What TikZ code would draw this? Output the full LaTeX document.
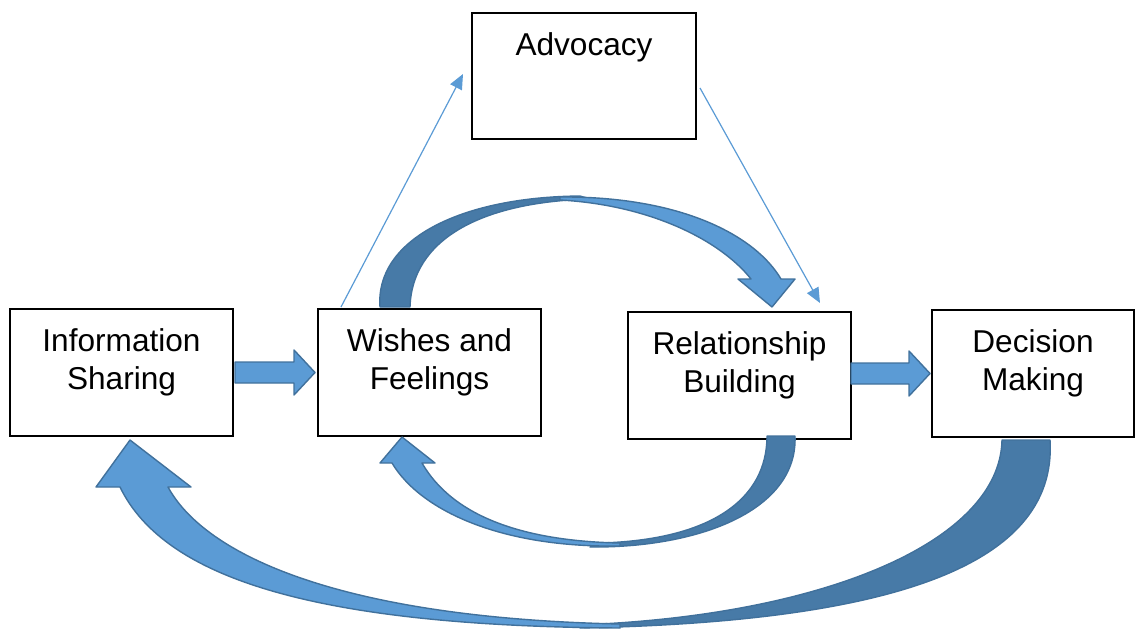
\documentclass[tikz,border=0pt]{standalone}
\usepackage{fontspec}
\setmainfont{Liberation Sans}
\usetikzlibrary{arrows.meta}
\definecolor{lb}{RGB}{91,155,213}
\definecolor{db}{RGB}{71,122,167}
\definecolor{ob}{RGB}{65,113,156}
\begin{document}
\begin{tikzpicture}[x=0.5pt,y=-0.5pt,
 box/.style={draw=black, line width=0.6pt, fill=white, inner sep=0pt, minimum width=111.5pt, minimum height=63.5pt},
 txt/.style={inner sep=0pt, align=center, yshift=5pt, font=\fontsize{15.8pt}{18.8pt}\selectfont},
 lightband/.style={draw=ob, line width=0.7pt, line join=round, fill=lb},
 darkband/.style={draw=ob, line width=0.7pt, line join=round, fill=db},
 thinarrow/.style={draw=lb, line width=0.6pt, -{Triangle[length=7.5pt,width=6.5pt]}}
]
\useasboundingbox (0,0) rectangle (1135,628);

% boxes
\node[box, label={[txt]center:Information\\Sharing}] (info) at (121.5,372.5) {};
\node[box, label={[txt]center:Wishes and\\Feelings}] (wish) at (429.5,372.5) {};
\node[box, label={[txt]center:Relationship\\Building}] (rel) at (739.5,375.5) {};
\node[box, minimum width=101pt, label={[txt]center:Decision\\Making}] (dec) at (1033,373.5) {};
\node[box, minimum width=112pt, minimum height=63pt,
  label={[txt, anchor=north, yshift=-15pt]north:Advocacy}] (adv) at (584,76) {};

% thin arrows
\coordinate (t1s) at (341,307);
\coordinate (t1e) at (463,74);
\coordinate (t2s) at (700,88);
\coordinate (t2e) at (820,303);
\draw[thinarrow] (t1s) -- (t1e);
\draw[thinarrow] (t2s) -- (t2e);

% straight block arrows
\draw[lightband] (235,362) -- (294,362) -- (294,350) -- (315,372.5) -- (294,395) -- (294,383) -- (235,383) -- cycle;
\draw[lightband] (851,363) -- (909,363) -- (909,351) -- (930,373.5) -- (909,396) -- (909,384) -- (851,384) -- cycle;

% top curved arrow (Wishes -> Relationship)
\draw[darkband] (380,307) .. controls (375,240) and (460,197) .. (580,196)
  -- (590,199) .. controls (480,202) and (412,240) .. (410,307) -- cycle;
\draw[lightband] (560,197) .. controls (680,196) and (755,235) .. (781,279)
  -- (795,279) -- (772,307) -- (738,279) -- (751,279)
  .. controls (720,240) and (650,205) .. (560,200) -- cycle;

% inner bottom curved arrow (Relationship -> Wishes)
\draw[darkband] (795,436) .. controls (798,510) and (700,548) .. (590,547)
  -- (600,543) .. controls (710,540) and (767,500) .. (767,436) -- cycle;
\draw[lightband] (620,546) .. controls (500,548) and (420,510) .. (392,463)
  -- (380,463) -- (402,437) -- (435,463) -- (422,463)
  .. controls (452,515) and (520,541) .. (620,543) -- cycle;

% outer bottom curved arrow (Decision -> Information)
\draw[darkband] (1050,440) .. controls (1058,570) and (880,622) .. (580,628)
  -- (600,624) .. controls (830,612) and (1000,540) .. (1002,440) -- cycle;
\draw[lightband] (620,628) .. controls (320,626) and (165,580) .. (120,487)
  -- (96,487) -- (130,440) -- (191,487) -- (168,487)
  .. controls (205,555) and (340,618) .. (620,624) -- cycle;
\end{tikzpicture}
\end{document}
